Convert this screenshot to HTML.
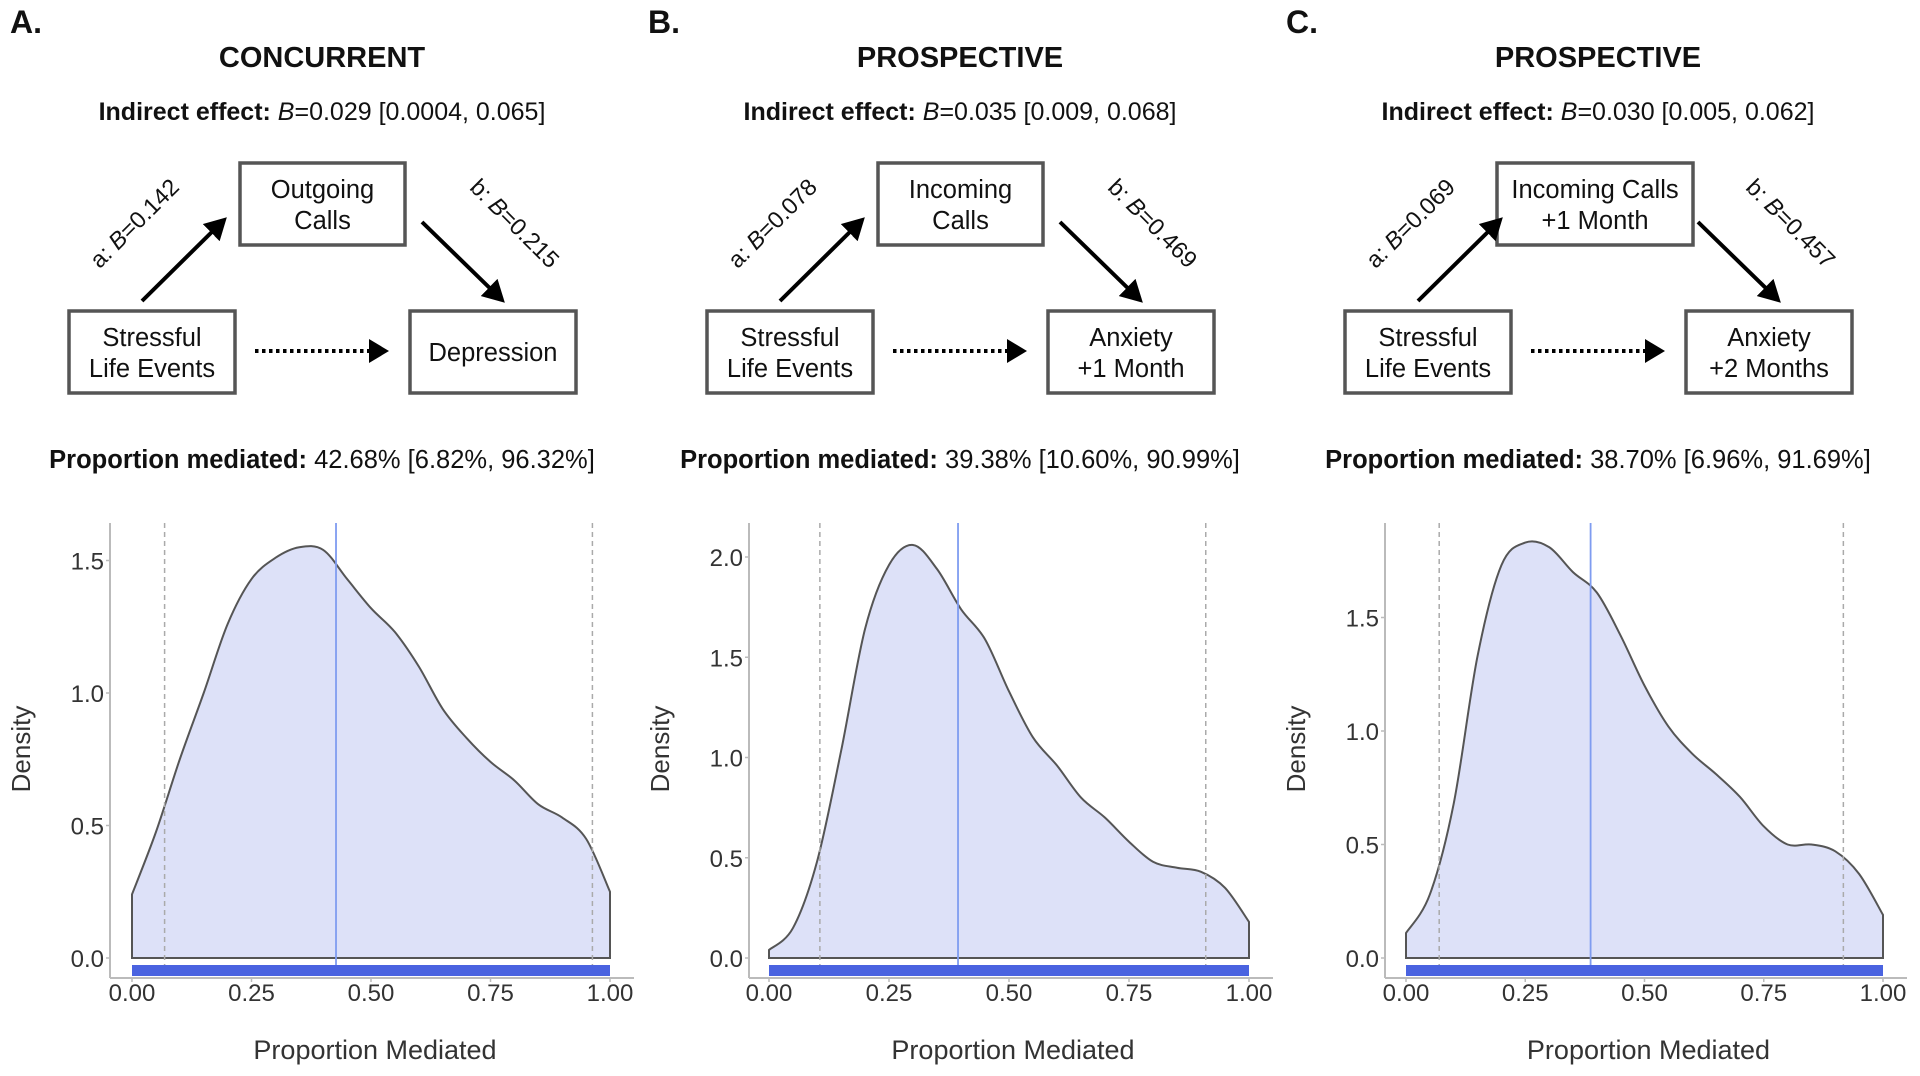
<!DOCTYPE html>
<html><head><meta charset="utf-8"><style>
html,body{margin:0;padding:0;background:#fff;}
svg{display:block;font-family:"Liberation Sans",Arial,sans-serif;}
</style></head><body>
<svg id="fig" width="1920" height="1076" viewBox="0 0 1920 1076" xmlns="http://www.w3.org/2000/svg">
<defs>
<marker id="ah" markerWidth="6" markerHeight="6" refX="4.5" refY="3" orient="auto" markerUnits="strokeWidth">
<path d="M0,0 L5.5,3 L0,6 Z" fill="#000"/></marker>
<marker id="ah2" markerWidth="5" markerHeight="6" refX="4" refY="3" orient="auto" markerUnits="strokeWidth">
<path d="M0,0 L5,3 L0,6 Z" fill="#000"/></marker>
</defs>
<g id="diagrams"></g>
<g id="plots"></g>
</svg>
<script>
// ---- chart data ----
const xGrid = [0,0.05,0.1,0.15,0.2,0.25,0.3,0.35,0.4,0.45,0.5,0.55,0.6,0.65,0.7,0.75,0.8,0.85,0.9,0.95,1.0];
const densityA = [0.24,0.475,0.75,1.0,1.26,1.43,1.51,1.55,1.54,1.43,1.32,1.23,1.10,0.94,0.83,0.74,0.67,0.58,0.53,0.45,0.25];
const densityB = [0.04,0.15,0.48,1.03,1.64,1.96,2.06,1.94,1.74,1.59,1.33,1.10,0.96,0.80,0.70,0.58,0.48,0.45,0.43,0.35,0.18];
const densityC = [0.11,0.28,0.68,1.33,1.73,1.83,1.81,1.70,1.61,1.42,1.20,1.02,0.90,0.81,0.71,0.58,0.50,0.50,0.47,0.37,0.19];
const medians = [0.4268,0.3938,0.3870];
const ciLow = [0.0682,0.1060,0.0696];
const ciHigh = [0.9632,0.9099,0.9169];
const xTicks = [0,0.25,0.5,0.75,1.0];
const xTickLabels = ["0.00","0.25","0.50","0.75","1.00"];
const yTicksA = [0,0.5,1.0,1.5];
const yTicksB = [0,0.5,1.0,1.5,2.0];
const yTicksC = [0,0.5,1.0,1.5];

const NS="http://www.w3.org/2000/svg";
function mk(tag,attrs,parent,text){const e=document.createElementNS(NS,tag);for(const k in attrs)e.setAttribute(k,attrs[k]);if(text!==undefined)e.textContent=text;parent.appendChild(e);return e;}

// ---- diagrams ----
const dg=document.getElementById('diagrams');
const panels=[
 {dx:0,letter:"A.",title:"CONCURRENT",B:"0.029 [0.0004, 0.065]",a:"a: B=0.142",b:"b: B=0.215",med:["Outgoing","Calls"],out:["Depression"],prop:"42.68% [6.82%, 96.32%]",medBox:[240,163,165,82]},
 {dx:638,letter:"B.",title:"PROSPECTIVE",B:"0.035 [0.009, 0.068]",a:"a: B=0.078",b:"b: B=0.469",med:["Incoming","Calls"],out:["Anxiety","+1 Month"],prop:"39.38% [10.60%, 90.99%]",medBox:[240,163,165,82]},
 {dx:1276,letter:"C.",title:"PROSPECTIVE",B:"0.030 [0.005, 0.062]",a:"a: B=0.069",b:"b: B=0.457",med:["Incoming Calls","+1 Month"],out:["Anxiety","+2 Months"],prop:"38.70% [6.96%, 91.69%]",medBox:[221,163,196,82]}
];
panels.forEach((p,i)=>{
 const g=mk('g',{transform:`translate(${p.dx},0)`},dg);
 
 
 const L=mk('text',{x:10,y:33,'font-size':32,'font-weight':'bold',fill:'#111'},g,p.letter);
 
 const T=mk('text',{x:322,y:67,'font-size':29,'font-weight':'bold','text-anchor':'middle',fill:'#111'},g,p.title);
 
 const ie=mk('text',{x:322,y:120,'font-size':25,'text-anchor':'middle',fill:'#111'},g);
 
 mk('tspan',{'font-weight':'bold'},ie,'Indirect effect: ');mk('tspan',{'font-style':'italic'},ie,'B');mk('tspan',{},ie,'='+p.B);
 const boxes=[[p.medBox,p.med,'mediator-box'],[[69,311,166,82],["Stressful","Life Events"],'predictor-box'],[[410,311,166,82],p.out,'outcome-box']];
 boxes.forEach(([r,lines,nm])=>{
  const bg=mk('g',{},g);
  mk('rect',{x:r[0],y:r[1],width:r[2],height:r[3],fill:'#fff',stroke:'#555','stroke-width':3.5},bg);
  const cx=r[0]+r[2]/2,cy=r[1]+r[3]/2;
  lines.forEach((t,j)=>{const yy=lines.length==1?cy+9:cy-6+j*31;mk('text',{x:cx,y:yy,'font-size':25.5,'text-anchor':'middle',fill:'#111'},bg,t);});
 });
 const aA=mk('line',{x1:142,y1:301,x2:224,y2:220,stroke:'#000','stroke-width':4,'marker-end':'url(#ah)'},g);
 
 const bA=mk('line',{x1:422,y1:222,x2:502,y2:300,stroke:'#000','stroke-width':4,'marker-end':'url(#ah)'},g);
 
 const cA=mk('line',{x1:255,y1:351,x2:385,y2:351,stroke:'#000','stroke-width':4,'stroke-dasharray':'3.5 3.5','marker-end':'url(#ah2)'},g);
 
 const la=mk('text',{x:0,y:0,'font-size':23.5,'text-anchor':'middle',fill:'#111',transform:'translate(140,229) rotate(-45)'},g);
 
 const pa=p.a.split('B');mk('tspan',{},la,pa[0]);mk('tspan',{'font-style':'italic'},la,'B');mk('tspan',{},la,pa[1]);
 const lb=mk('text',{x:0,y:0,'font-size':23.5,'text-anchor':'middle',fill:'#111',transform:'translate(509,229) rotate(45)'},g);
 
 const pb=p.b.split('B');mk('tspan',{},lb,pb[0]);mk('tspan',{'font-style':'italic'},lb,'B');mk('tspan',{},lb,pb[1]);
 const pm=mk('text',{x:322,y:468,'font-size':25.5,'text-anchor':'middle',fill:'#111'},g);
 
 mk('tspan',{'font-weight':'bold'},pm,'Proportion mediated: ');mk('tspan',{},pm,p.prop);
});

// ---- density plots ----
const pl=document.getElementById('plots');
const plotCfg=[
 {axisX:110,x0:132,x1:610,perUnit:265,dens:densityA,yt:yTicksA},
 {axisX:749,x0:769,x1:1249,perUnit:200.5,dens:densityB,yt:yTicksB},
 {axisX:1385,x0:1406,x1:1883,perUnit:227,dens:densityC,yt:yTicksC}
];
const Y0=958, TOP=523, XAX=978;
plotCfg.forEach((c,i)=>{
 const sx=v=>c.x0+v*(c.x1-c.x0);
 const sy=v=>Y0-v*c.perUnit;
 const g=mk('g',{},pl);
 
 
 mk('line',{x1:c.axisX,y1:TOP,x2:c.axisX,y2:XAX,stroke:'#bbb','stroke-width':2},g);
 mk('line',{x1:c.axisX,y1:XAX,x2:c.x1+24,y2:XAX,stroke:'#bbb','stroke-width':2},g);
 const pts=xGrid.map((x,k)=>[sx(x),sy(c.dens[k])]);
 let d=`M${sx(0)},${Y0} L${pts[0][0]},${pts[0][1]}`;
 for(let k=0;k<pts.length-1;k++){
  const p0=pts[Math.max(k-1,0)],p1=pts[k],p2=pts[k+1],p3=pts[Math.min(k+2,pts.length-1)];
  const c1=[p1[0]+(p2[0]-p0[0])/6,p1[1]+(p2[1]-p0[1])/6];
  const c2=[p2[0]-(p3[0]-p1[0])/6,p2[1]-(p3[1]-p1[1])/6];
  d+=` C${c1[0]},${c1[1]} ${c2[0]},${c2[1]} ${p2[0]},${p2[1]}`;
 }
 d+=` L${sx(1)},${Y0} Z`;
 const area=mk('path',{d:d,fill:'#dde1f8',stroke:'#555','stroke-width':2},g);
 
 [ciLow[i],ciHigh[i]].forEach((v,k)=>{
  const l=mk('line',{x1:sx(v),y1:TOP,x2:sx(v),y2:XAX-2,stroke:'#aaa','stroke-width':1.5,'stroke-dasharray':'5 4'},g);
  
 });
 const m=mk('line',{x1:sx(medians[i]),y1:TOP,x2:sx(medians[i]),y2:XAX-2,stroke:'#7f9cf0','stroke-width':1.8},g);
 
 const r=mk('rect',{x:sx(0),y:965,width:sx(1)-sx(0),height:11,fill:'#4a63e0'},g);
 
 c.yt.forEach(v=>{
  mk('line',{x1:c.axisX-4,y1:sy(v),x2:c.axisX,y2:sy(v),stroke:'#bbb','stroke-width':1.5},g);
  const t=mk('text',{x:c.axisX-6,y:sy(v)+9,'font-size':24,'text-anchor':'end',fill:'#333'},g,v.toFixed(1));
  
 });
 xTicks.forEach((v,k)=>{
  mk('line',{x1:sx(v),y1:XAX,x2:sx(v),y2:XAX+4,stroke:'#bbb','stroke-width':1.5},g);
  const t=mk('text',{x:sx(v),y:1001,'font-size':24,'text-anchor':'middle',fill:'#333'},g,xTickLabels[k]);
  
 });
 const xt=mk('text',{x:(c.x0+c.x1)/2+4,y:1059,'font-size':27,'text-anchor':'middle',fill:'#333'},g,'Proportion Mediated');
 
 const yt=mk('text',{x:0,y:0,'font-size':26,'text-anchor':'middle',fill:'#333',transform:`translate(${c.axisX-80},749) rotate(-90)`},g,'Density');
 
});
</script>
</body></html>
